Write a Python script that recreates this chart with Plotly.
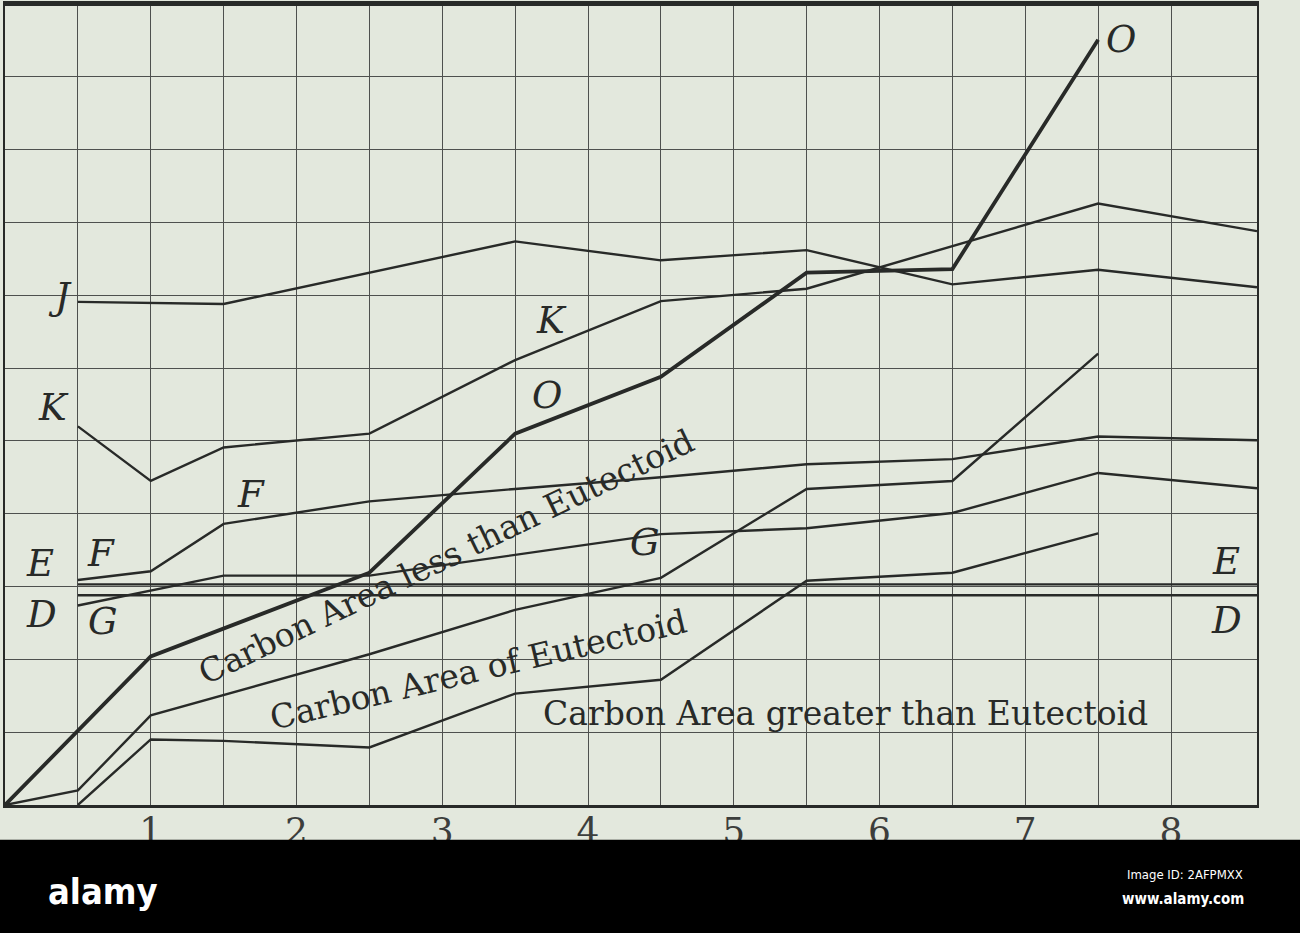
import plotly.graph_objects as go

# ---- data (x in chart units, y in grid units) ----
tick_vals = [1, 2, 3, 4, 5, 6, 7, 8]
tick_text = ["1", "2", "3", "4", "5", "6", "7", "8"]
X_RIGHT = 8.59

J_x = [0.5, 1.5, 3.5, 4.5, 5.5, 6.5, 7.5, 8.59]
J_y = [6.91, 6.88, 7.74, 7.48, 7.62, 7.15, 7.35, 7.11]

K_x = [0.5, 1, 1.5, 2.5, 3.5, 4.5, 5.5, 7.5, 8.59]
K_y = [5.20, 4.45, 4.91, 5.10, 6.11, 6.92, 7.09, 8.26, 7.88]

O_x = [0, 1, 2.5, 3.5, 4.5, 5.5, 6.5, 7.5]
O_y = [0, 2.04, 3.19, 5.10, 5.88, 7.31, 7.36, 10.51]

F_x = [0.5, 1, 1.5, 2.5, 3.5, 4.5, 5.5, 6.5, 7.5, 8.59]
F_y = [3.09, 3.21, 3.86, 4.17, 4.34, 4.50, 4.68, 4.75, 5.06, 5.01]

G_x = [0.5, 1.5, 2.5, 4.5, 5.5, 6.5, 7.5, 8.59]
G_y = [2.74, 3.15, 3.15, 3.72, 3.80, 4.01, 4.56, 4.35]

E_x = [0.5, 8.59]
E_y = [3.03, 3.03]

D_x = [0.5, 8.59]
D_y = [2.88, 2.88]

# unlabeled boundary curves
A_x = [0, 0.5, 1, 2.5, 3.5, 4.5, 5.5, 6.5, 7.5]
A_y = [0, 0.20, 1.23, 2.07, 2.68, 3.12, 4.34, 4.45, 6.20]

B_x = [0.5, 1, 1.5, 2.5, 3.5, 4.5, 5.5, 6.5, 7.5]
B_y = [0, 0.90, 0.88, 0.79, 1.53, 1.72, 3.08, 3.19, 3.73]

# curve letter labels: (text, x, y)
letter_labels = [
    ("J", 0.38, 6.99), ("K", 0.33, 5.46), ("E", 0.24, 3.31), ("F", 0.66, 3.45),
    ("D", 0.25, 2.61), ("G", 0.67, 2.52), ("F", 1.69, 4.27), ("K", 3.75, 6.66),
    ("O", 3.72, 5.62), ("G", 4.39, 3.61), ("O", 7.66, 10.51), ("K", 8.75, 7.82),
    ("J", 8.71, 7.09), ("F", 8.74, 4.97), ("G", 8.72, 4.28), ("E", 8.38, 3.34),
    ("D", 8.38, 2.54),
]

# region texts: (text, x, y, angle)
region_texts = [
    ("Carbon Area less than Eutectoid", 3.03, 3.41, -25.7),
    ("Carbon Area of Eutectoid", 3.25, 1.86, -13.3),
    ("Carbon Area greater than Eutectoid", 5.77, 1.26, 0),
]

BG = "rgb(227,232,221)"
INK = "rgb(40,42,40)"
GRID = "rgb(78,80,78)"

fig = go.Figure()

def add_line(x, y, w=2.4):
    fig.add_trace(go.Scatter(x=x, y=y, mode="lines",
                             line=dict(color=INK, width=w),
                             hoverinfo="skip", showlegend=False))

for xs, ys in [(J_x, J_y), (K_x, K_y), (F_x, F_y), (G_x, G_y),
               (E_x, E_y), (D_x, D_y), (A_x, A_y), (B_x, B_y)]:
    add_line(xs, ys)
add_line(O_x, O_y, 3.8)

for t, x, y in letter_labels:
    fig.add_annotation(x=x, y=y, text=t, showarrow=False,
                       font=dict(family="DejaVu Serif", size=37, color=INK, style="italic"),
                       xanchor="center", yanchor="middle")

for t, x, y, a in region_texts:
    fig.add_annotation(x=x, y=y, text=t, showarrow=False, textangle=a,
                       font=dict(family="DejaVu Serif", size=33, color=INK),
                       xanchor="center", yanchor="middle",
                       bgcolor="rgba(0,0,0,0)")

# top border (thicker)
fig.add_shape(type="line", xref="paper", yref="paper", x0=0, x1=1, y0=1, y1=1,
              line=dict(color=INK, width=4))

# bottom black band with stock-image credit
fig.add_shape(type="rect", xref="paper", yref="paper", x0=-0.02, x1=1.05,
              y0=-0.25, y1=-0.0435, fillcolor="black", line=dict(width=0),
              layer="above")
fig.add_annotation(xref="paper", yref="paper", x=0.078, y=-0.108, text="<b>alamy</b>",
                   showarrow=False, font=dict(family="DejaVu Sans Condensed", size=36, color="white"),
                   xanchor="center", yanchor="middle")
fig.add_annotation(xref="paper", yref="paper", x=0.9425, y=-0.087, text="Image ID: 2AFPMXX",
                   showarrow=False, font=dict(family="DejaVu Sans Condensed", size=13, color="white"),
                   xanchor="center", yanchor="middle")
fig.add_annotation(xref="paper", yref="paper", x=0.941, y=-0.117, text="<b>www.alamy.com</b>",
                   showarrow=False, font=dict(family="DejaVu Sans Condensed", size=15, color="white"),
                   xanchor="center", yanchor="middle")

fig.update_layout(
    width=1300, height=933,
    margin=dict(l=5, r=43, t=1, b=128),
    paper_bgcolor=BG, plot_bgcolor=BG,
    showlegend=False,
    xaxis=dict(range=[0, X_RIGHT], tickmode="array", tickvals=tick_vals, ticktext=tick_text,
               showgrid=True, gridcolor=GRID, gridwidth=1.3,
               minor=dict(tickmode="array", tickvals=[0.5, 1.5, 2.5, 3.5, 4.5, 5.5, 6.5, 7.5],
                          showgrid=True, gridcolor=GRID, gridwidth=1.3),
               showline=True, mirror=True, linecolor=INK, linewidth=2.5,
               zeroline=False, ticks="",
               tickfont=dict(family="DejaVu Serif", size=36, color="rgb(60,62,60)"),
               fixedrange=True),
    yaxis=dict(range=[0, 11], dtick=1, tick0=0, showgrid=True, gridcolor=GRID, gridwidth=1.3,
               showline=True, mirror=True, linecolor=INK, linewidth=2,
               zeroline=False, showticklabels=False, ticks="", fixedrange=True),
)
try:
    fig.update_xaxes(ticklabelstandoff=-8)
except ValueError:
    pass

fig.write_html("out.html",
               config={"displayModeBar": False},
               post_script="document.body.style.margin='0';document.body.style.overflow='hidden';")
